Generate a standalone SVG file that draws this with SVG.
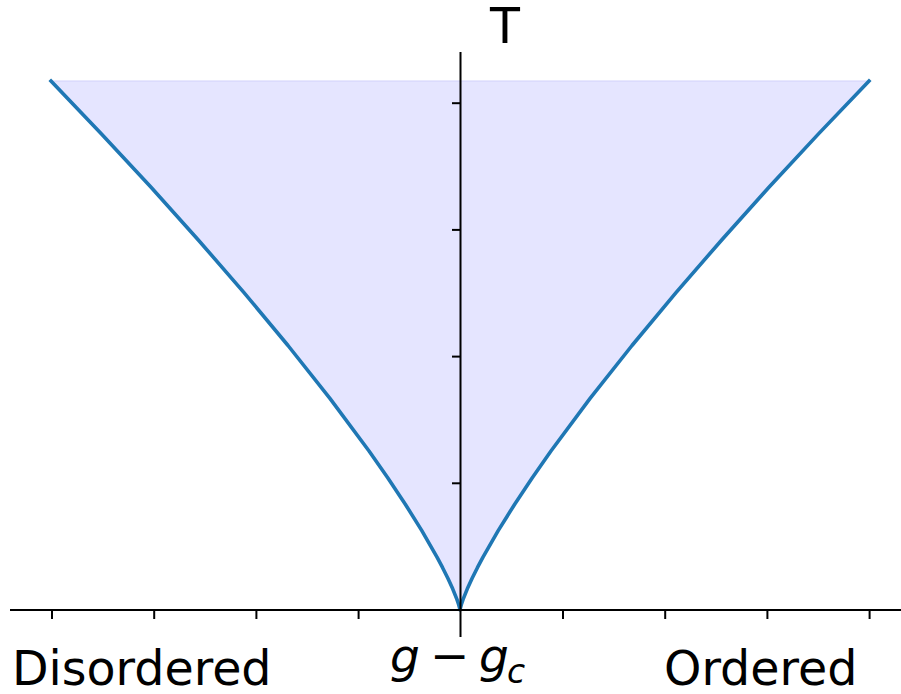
<svg xmlns="http://www.w3.org/2000/svg" width="901" height="694" viewBox="0 0 901 694">
<style>
.lbl{font-family:"DejaVu Sans","Liberation Sans",sans-serif;fill:#000}
.ax{stroke:#000;stroke-width:2;fill:none;stroke-linecap:butt}
.curve{stroke:#1f77b4;stroke-width:3.6;fill:none;stroke-linejoin:round;stroke-linecap:square}
.region{fill:#e5e5ff;stroke:#d2d2fc;stroke-width:1.2}
</style>
<rect width="901" height="694" fill="#fff"/>
<g id="region">
<polygon class="region" points="51,81 101.5,133.9 150.6,186.8 198.1,239.7 244,292.6 288,345.5 329.9,398.4 369.2,451.3 387.7,477.75 405.3,504.2 421.8,530.65 437,557.1 442.6,567.68 447.86,578.26 452.69,588.84 456.92,599.42 458.71,604.71 459.46,607.4 460,610 460.54,607.4 461.29,604.71 463.08,599.42 467.31,588.84 472.14,578.26 477.4,567.68 483,557.1 498.2,530.65 514.7,504.2 532.3,477.75 550.8,451.3 590.1,398.4 632,345.5 676,292.6 721.9,239.7 769.4,186.8 818.5,133.9 869,81"/>
</g>
<g id="curve">
<polyline class="curve" points="51,81 101.5,133.9 150.6,186.8 198.1,239.7 244,292.6 288,345.5 329.9,398.4 369.2,451.3 387.7,477.75 405.3,504.2 421.8,530.65 437,557.1 442.6,567.68 447.86,578.26 452.69,588.84 456.92,599.42 458.71,604.71 459.46,607.4 460,610 460.54,607.4 461.29,604.71 463.08,599.42 467.31,588.84 472.14,578.26 477.4,567.68 483,557.1 498.2,530.65 514.7,504.2 532.3,477.75 550.8,451.3 590.1,398.4 632,345.5 676,292.6 721.9,239.7 769.4,186.8 818.5,133.9 869,81"/>
</g>
<g id="axes">
<line class="ax" x1="10" y1="610" x2="901" y2="610"/>
<line class="ax" x1="460.5" y1="52" x2="460.5" y2="637"/>
<g id="xticks">
<line class="ax" x1="52" y1="610" x2="52" y2="619"/>
<line class="ax" x1="154.2" y1="610" x2="154.2" y2="619"/>
<line class="ax" x1="256.4" y1="610" x2="256.4" y2="619"/>
<line class="ax" x1="358.6" y1="610" x2="358.6" y2="619"/>
<line class="ax" x1="563" y1="610" x2="563" y2="619"/>
<line class="ax" x1="665.2" y1="610" x2="665.2" y2="619"/>
<line class="ax" x1="767.4" y1="610" x2="767.4" y2="619"/>
<line class="ax" x1="869.6" y1="610" x2="869.6" y2="619"/>
</g>
<g id="yticks">
<line class="ax" x1="452" y1="103.2" x2="460.5" y2="103.2"/>
<line class="ax" x1="452" y1="229.9" x2="460.5" y2="229.9"/>
<line class="ax" x1="452" y1="356.6" x2="460.5" y2="356.6"/>
<line class="ax" x1="452" y1="483.3" x2="460.5" y2="483.3"/>
</g>
</g>
<g id="labels">
<text class="lbl" x="505" y="43" font-size="49" text-anchor="middle">T</text>
<text class="lbl" x="12" y="685" font-size="47.5">Disordered</text>
<text class="lbl" x="664" y="685" font-size="47.5">Ordered</text>
<text class="lbl" x="390" y="672" font-size="47" font-style="italic">g</text>
<text class="lbl" x="430" y="672" font-size="47">−</text>
<text class="lbl" x="479" y="672" font-size="47" font-style="italic">g</text>
<text class="lbl" x="507" y="683" font-size="33" font-style="italic">c</text>
</g>
</svg>
